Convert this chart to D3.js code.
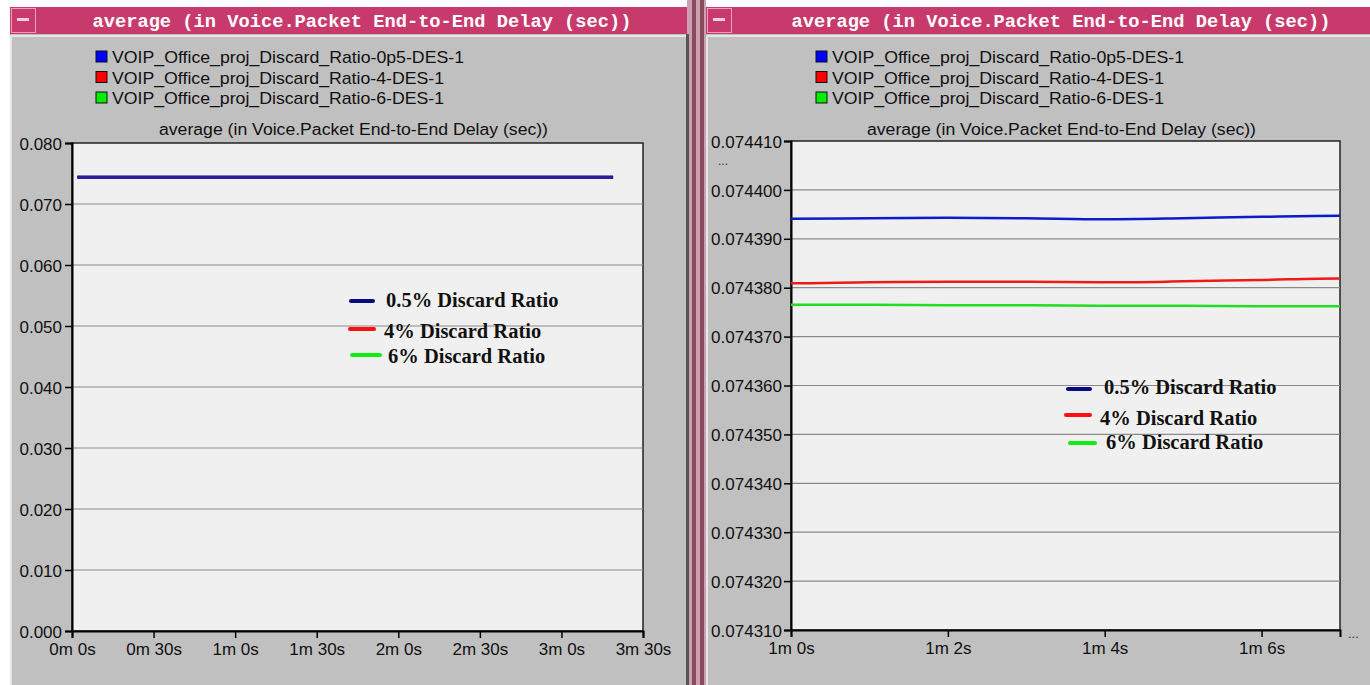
<!DOCTYPE html>
<html>
<head>
<meta charset="utf-8">
<script src="https://cdn.jsdelivr.net/npm/d3@7"></script>
<style>
  body { margin: 0; background: #fff; }
  svg { display: block; }
  .tick text { font-family: "Liberation Sans", Arial, sans-serif; font-size: 17px; fill: #111; }
</style>
</head>
<body>
<svg id="chart" width="1370" height="685"></svg>
<script>
// sample times (seconds) shared by all series
const times = [2, 30, 60, 61, 62, 63, 64, 65, 66, 67, 90, 120, 150, 180, 199];

const blueVals  = [0.0743940, 0.0743941, 0.0743941, 0.0743942, 0.0743943, 0.0743942, 0.0743940, 0.0743942, 0.0743945, 0.0743947, 0.0743946, 0.0743946, 0.0743947, 0.0743947, 0.0743947];
const redVals   = [0.0743808, 0.0743809, 0.0743809, 0.0743811, 0.0743812, 0.0743812, 0.0743811, 0.0743813, 0.0743816, 0.0743819, 0.0743819, 0.0743820, 0.0743820, 0.0743820, 0.0743820];
const greenVals = [0.0743766, 0.0743765, 0.0743765, 0.0743765, 0.0743764, 0.0743764, 0.0743763, 0.0743763, 0.0743762, 0.0743762, 0.0743762, 0.0743761, 0.0743761, 0.0743761, 0.0743761];

const seriesNames = ["VOIP_Office_proj_Discard_Ratio-0p5-DES-1", "VOIP_Office_proj_Discard_Ratio-4-DES-1", "VOIP_Office_proj_Discard_Ratio-6-DES-1"];
const seriesColors = ["#0a1ccc", "#ee1a1a", "#22dd22"];
const legendFill = ["#0000ff", "#ff0000", "#00ee00"];
const noteLabels = ["0.5% Discard Ratio", "4% Discard Ratio", "6% Discard Ratio"];
const noteColors = ["#0a0a80", "#ff1010", "#10ee10"];

const leftXTicks = [0, 30, 60, 90, 120, 150, 180, 210];
const leftYTicks = [0, 0.01, 0.02, 0.03, 0.04, 0.05, 0.06, 0.07, 0.08];
const rightXTicks = [60, 62, 64, 66];
const rightYTicks = d3.range(0, 11).map(i => (74310 + i * 10) / 1e6);

const title = "average (in Voice.Packet End-to-End Delay (sec))";

const svg = d3.select("#chart");
const fmtTime = t => Math.floor(t / 60) + "m " + (t % 60) + "s";

const seriesData = [blueVals, redVals, greenVals].map(vals => times.map((t, i) => ({t: t, v: vals[i]})));

function panel(opt) {
  const g = svg.append("g");
  // body
  g.append("rect").attr("x", opt.x0).attr("y", 34).attr("width", opt.x1 - opt.x0).attr("height", 651).attr("fill", "#c0c0c0");
  g.append("line").attr("x1", opt.x0 + 1).attr("x2", opt.x1).attr("y1", 36).attr("y2", 36).attr("stroke", "#e6e6e6").attr("stroke-width", 2);
  g.append("line").attr("x1", opt.x0 + 1).attr("x2", opt.x0 + 1).attr("y1", 36).attr("y2", 685).attr("stroke", "#e6e6e6").attr("stroke-width", 2);
  // title bar
  g.append("rect").attr("x", opt.x0).attr("y", 7).attr("width", opt.x1 - opt.x0).attr("height", 27).attr("fill", "#c93a6c");
  g.append("rect").attr("x", opt.x0 + 1.5).attr("y", 8.5).attr("width", 24).attr("height", 24).attr("fill", "none").attr("stroke", "#e9a0bb");
  g.append("rect").attr("x", opt.x0 + 7).attr("y", 18).attr("width", 12).attr("height", 3).attr("fill", "#f0d0dc");
  g.append("text").attr("x", opt.titleX).attr("y", 27).attr("text-anchor", "middle")
    .attr("font-family", "'Liberation Mono', 'DejaVu Sans Mono', monospace").attr("font-weight", "bold")
    .attr("font-size", 19).attr("fill", "#fff").attr("textLength", 539).attr("lengthAdjust", "spacingAndGlyphs")
    .text(title);

  // legend
  const lg = g.append("g").selectAll("g").data(seriesNames).enter().append("g")
    .attr("transform", (d, i) => "translate(" + opt.legX + "," + (57 + i * 20.5) + ")");
  lg.append("rect").attr("x", 0).attr("y", -6).attr("width", 11).attr("height", 11)
    .attr("fill", (d, i) => legendFill[i]).attr("stroke", "#111");
  lg.append("text").attr("x", 16).attr("y", 6)
    .attr("font-family", "'Liberation Sans', Arial, sans-serif").attr("font-size", 17).attr("fill", "#111")
    .attr("textLength", (d, i) => [352, 332, 332][i]).attr("lengthAdjust", "spacingAndGlyphs")
    .text(d => d);

  // subtitle
  g.append("text").attr("x", (opt.px0 + opt.px1) / 2 - 4).attr("y", 135).attr("text-anchor", "middle")
    .attr("font-family", "'Liberation Sans', Arial, sans-serif").attr("font-size", 16).attr("fill", "#111")
    .attr("textLength", 389).attr("lengthAdjust", "spacingAndGlyphs").text(title);

  const x = d3.scaleLinear().domain(opt.xDomain).range([opt.px0, opt.px1]);
  const y = d3.scaleLinear().domain(opt.yDomain).range([opt.py1, opt.py0]);

  g.append("rect").attr("x", opt.px0).attr("y", opt.py0).attr("width", opt.px1 - opt.px0).attr("height", opt.py1 - opt.py0)
    .attr("fill", "#f0f0f0").attr("stroke", "#222").attr("stroke-width", 1.5);

  // grid
  g.append("g").selectAll("line").data(opt.yTicks.slice(1, -1)).enter().append("line")
    .attr("x1", opt.px0).attr("x2", opt.px1).attr("y1", d => y(d)).attr("y2", d => y(d))
    .attr("stroke", "#8a8a8a").attr("stroke-width", 1.2);

  const yAxis = g.append("g").attr("transform", "translate(" + opt.px0 + ",0)")
    .call(d3.axisLeft(y).tickValues(opt.yTicks).tickFormat(opt.yFmt).tickSize(7).tickPadding(opt.yPad));
  const xAxis = g.append("g").attr("transform", "translate(0," + opt.py1 + ")")
    .call(d3.axisBottom(x).tickValues(opt.xTicks).tickFormat(fmtTime).tickSize(7).tickPadding(3));
  [yAxis, xAxis].forEach(a => {
    a.select(".domain").attr("stroke", "#000").attr("stroke-width", 2);
    a.selectAll(".tick line").attr("stroke", "#000").attr("stroke-width", 1.5);
  });
  yAxis.selectAll(".tick text").attr("dy", "0.36em");
  xAxis.selectAll(".tick text").attr("dy", "0.85em");

  // series lines
  const clipId = "clip" + opt.x0;
  g.append("clipPath").attr("id", clipId).append("rect")
    .attr("x", opt.px0).attr("y", opt.py0).attr("width", opt.px1 - opt.px0).attr("height", opt.py1 - opt.py0);
  const line = d3.line().x(d => x(d.t)).y(d => y(d.v)).curve(d3.curveMonotoneX);
  g.append("g").attr("clip-path", "url(#" + clipId + ")")
    .selectAll("path").data(seriesData.slice().reverse()).enter().append("path")
    .attr("d", line).attr("fill", "none")
    .attr("stroke", (d, i) => opt.lineColors ? opt.lineColors[2 - i] : seriesColors[2 - i])
    .attr("stroke-width", opt.lineW);

  // hand-drawn annotation legend
  const ng = g.append("g").selectAll("g").data(noteLabels).enter().append("g")
    .attr("transform", (d, i) => "translate(" + opt.notes[i][0] + "," + opt.notes[i][1] + ")");
  ng.append("line").attr("x1", (d, i) => opt.notes[i][2]).attr("x2", (d, i) => opt.notes[i][3])
    .attr("y1", (d, i) => opt.notes[i][4]).attr("y2", (d, i) => opt.notes[i][4])
    .attr("stroke", (d, i) => noteColors[i]).attr("stroke-width", 4).attr("stroke-linecap", "round");
  ng.append("text").attr("x", 0).attr("y", 0)
    .attr("font-family", "'Liberation Serif', 'Times New Roman', serif").attr("font-weight", "bold")
    .attr("font-size", 20.5).attr("fill", "#111").text(d => d);
  return g;
}

panel({
  x0: 10, x1: 689, titleX: 362, legX: 96,
  px0: 72, px1: 643, py0: 143, py1: 631,
  xDomain: [0, 210], yDomain: [0, 0.08],
  xTicks: leftXTicks, yTicks: leftYTicks, yFmt: d3.format(".3f"), yPad: 3,
  lineW: 3, lineColors: ["#2a1c9a", "#2a1c9a", "#2a1c9a"],
  notes: [[386, 307, -35, -13, -6], [384, 338, -34, -10, -9], [388, 363, -36, -8, -8]]
});

const right = panel({
  x0: 706, x1: 1370, titleX: 1061, legX: 816,
  px0: 791, px1: 1340, py0: 141, py1: 630,
  xDomain: [60, 67], yDomain: [0.07431, 0.07441],
  xTicks: rightXTicks, yTicks: rightYTicks, yFmt: d3.format(".6f"), yPad: 2,
  lineW: 2.5,
  notes: [[1104, 394, -36, -14, -5], [1100, 425, -34, -10, -10], [1106, 449, -36, -11, -6]]
});
right.append("text").attr("x", 718).attr("y", 165).attr("font-family", "'Liberation Sans', Arial, sans-serif")
  .attr("font-size", 12).attr("fill", "#333").text("...");
right.append("text").attr("x", 1348).attr("y", 638).attr("font-family", "'Liberation Sans', Arial, sans-serif")
  .attr("font-size", 13).attr("fill", "#333").text("...");

// divider between the two windows (drawn last so it covers the panel edges)
const div = svg.append("g");
div.append("rect").attr("x", 687).attr("y", 0).attr("width", 19).attr("height", 685).attr("fill", "#c9a0b4");
div.append("rect").attr("x", 686).attr("y", 34).attr("width", 3).attr("height", 651).attr("fill", "#555");
div.append("rect").attr("x", 692).attr("y", 0).attr("width", 4).attr("height", 685).attr("fill", "#8c4a5e");
div.append("rect").attr("x", 700).attr("y", 0).attr("width", 4).attr("height", 685).attr("fill", "#8c4a5e");
</script>
</body>
</html>
